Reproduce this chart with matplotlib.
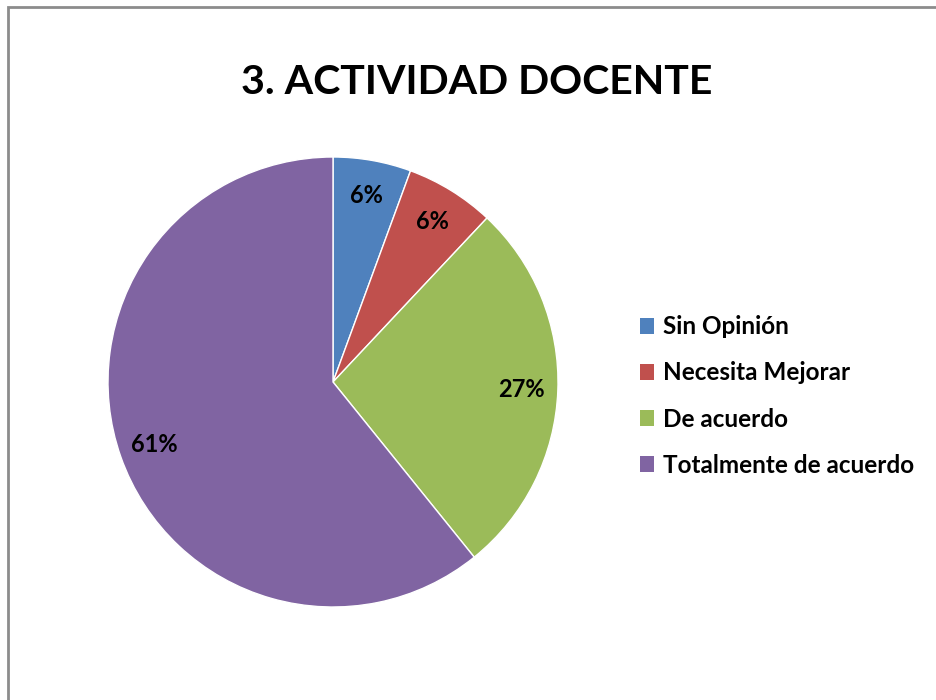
import matplotlib
matplotlib.use("Agg")
import matplotlib.pyplot as plt
from matplotlib.patches import Rectangle, Patch

categories = ["Sin Opinión", "Necesita Mejorar", "De acuerdo", "Totalmente de acuerdo"]
values = [5.6, 6.4, 27.2, 60.8]
colors = ["#4F81BD", "#C0504D", "#9BBB59", "#8064A2"]
title = "3. ACTIVIDAD DOCENTE"

plt.rcParams['font.family'] = ['Lato', 'DejaVu Sans']

fig = plt.figure(figsize=(9.37, 7.0), dpi=100)

# chart border (right/bottom edges run off the picture)
fig.patches.append(Rectangle((8 / 937, -0.1), 1.2, (700 - 7) / 700 + 0.1,
                             transform=fig.transFigure, fill=False,
                             edgecolor="#8c8c8c", linewidth=2))

fig.text(477 / 937, 1 - 82 / 700, title, ha="center", va="center",
         fontsize=29.5, fontweight="bold")

ax = fig.add_axes([108 / 937, 93 / 700, 450 / 937, 450 / 700])
wedges, texts, autotexts = ax.pie(
    values, colors=colors, startangle=90, counterclock=False,
    autopct=lambda p: f"{p:.0f}%", pctdistance=0.84,
    wedgeprops=dict(edgecolor="white", linewidth=1),
    textprops=dict(fontsize=17, fontweight="bold", color="black"))
ax.set_aspect("equal")
ax.set_xlim(-1, 1)
ax.set_ylim(-1, 1)

handles = [Patch(facecolor=c, edgecolor="none") for c in colors]
fig.legend(handles, categories, loc="center left",
           bbox_to_anchor=(618 / 937, 1 - 396 / 700), frameon=False,
           prop=dict(size=17.5, weight="bold"), handlelength=0.6,
           handleheight=0.6, handletextpad=0.35, labelspacing=0.95)

fig.savefig("out.png", dpi=100)
